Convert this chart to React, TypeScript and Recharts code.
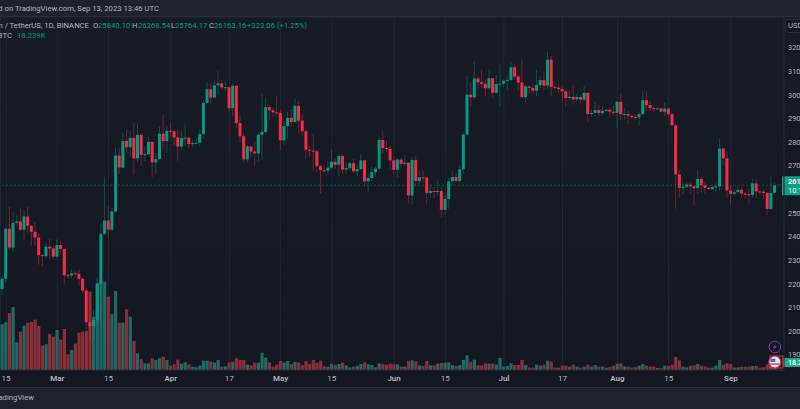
import React from 'react';
import {
  ComposedChart,
  Bar,
  Cell,
  XAxis,
  YAxis,
  CartesianGrid,
  ReferenceLine,
  ReferenceDot,
} from 'recharts';

const UP = '#089981';
const DOWN = '#f52d42';
const UP_VOL = '#1f6a64';
const DOWN_VOL = '#8a2f37';
const TEXT = '#b2b5be';
const GRID = '#222632';
const BORDER = '#2a2e39';
const PANEL = '#1e222d';
const FONT = 'Roboto, sans-serif';

const months: [string, number, number][] = [
  ['Feb', 14, 28], ['Mar', 1, 31], ['Apr', 1, 30], ['May', 1, 31],
  ['Jun', 1, 30], ['Jul', 1, 31], ['Aug', 1, 31], ['Sep', 1, 15],
];
const days = months.flatMap(([m, from, to]) => {
  const out: string[] = [];
  for (let d = from; d <= to; d++) out.push(`${m} ${d}`);
  return out;
});

const opens = [
  21770, 22200, 24320, 23520, 24570, 24630, 24280, 24840, 24450, 24190, 23950, 23200, 23160, 23560, 23490,
  23140, 23630, 23470, 22350, 22340, 22430, 22410, 22200, 21700, 20360, 20190, 20450, 21990, 24110, 24670, 24280, 25050, 27420, 26910, 28040, 27770, 28170, 27300, 28300, 27450, 27480, 28000, 27130, 27270, 28350, 28030,
  28470, 28450, 28190, 27800, 28170, 28180, 27910, 27950, 27960, 28330, 29650, 30230, 29880, 30390, 30480, 30310, 30320, 29430, 30380, 28800, 28240, 27260, 27810, 27590, 27510, 28300, 28420, 29470, 29340, 29250,
  29230, 28070, 28670, 29020, 28840, 29530, 28900, 28450, 27670, 27630, 27600, 26970, 26800, 26780, 26910, 27160, 27030, 27400, 26830, 26890, 27100, 26750, 26850, 27220, 26330, 26470, 26720, 26870, 28080, 27740, 27700,
  27220, 26820, 27250, 27070, 27120, 25730, 27230, 26340, 26500, 26480, 25840, 25920, 25900, 25920, 25120, 25580, 26330, 26510, 26340, 26840, 28310, 30000, 29890, 30690, 30530, 30460, 30270, 30700, 30080, 30450,
  30470, 30590, 30620, 31160, 30770, 30510, 29900, 30350, 30290, 30170, 30410, 30620, 30390, 31480, 30330, 30300, 30240, 30140, 29860, 29910, 29800, 29900, 29790, 30080, 29180, 29230, 29350, 29220, 29310, 29360, 29280,
  29230, 29700, 29170, 29180, 29110, 29050, 29040, 29180, 29770, 29560, 29430, 29400, 29420, 29280, 29410, 29170, 28700, 26620, 26050, 26100, 26190, 26120, 26040, 26430, 26160, 26050, 26000, 26090, 26110, 27720, 27300,
  25940, 25800, 25870, 25970, 25810, 25780, 25750, 26240, 25900, 25890, 25840, 25160, 25840.1,
];
const closes = [
  22200, 24320, 23520, 24570, 24630, 24280, 24840, 24450, 24190, 23950, 23200, 23160, 23560, 23490, 23140,
  23630, 23470, 22350, 22340, 22430, 22410, 22200, 21700, 20360, 20190, 20450, 21990, 24110, 24670, 24280, 25050, 27420, 26910, 28040, 27770, 28170, 27300, 28300, 27450, 27480, 28000, 27130, 27270, 28350, 28030, 28470,
  28450, 28190, 27800, 28170, 28180, 27910, 27950, 27960, 28330, 29650, 30230, 29880, 30390, 30480, 30310, 30320, 29430, 30380, 28800, 28240, 27260, 27810, 27590, 27510, 28300, 28420, 29470, 29340, 29250, 29230,
  28070, 28670, 29020, 28840, 29530, 28900, 28450, 27670, 27630, 27600, 26970, 26800, 26780, 26910, 27160, 27030, 27400, 26830, 26890, 27100, 26750, 26850, 27220, 26330, 26470, 26720, 26870, 28080, 27740, 27700, 27220,
  26820, 27250, 27070, 27120, 25730, 27230, 26340, 26500, 26480, 25840, 25920, 25900, 25920, 25120, 25580, 26330, 26510, 26340, 26840, 28310, 30000, 29890, 30690, 30530, 30460, 30270, 30700, 30080, 30450, 30470,
  30590, 30620, 31160, 30770, 30510, 29900, 30350, 30290, 30170, 30410, 30620, 30390, 31480, 30330, 30300, 30240, 30140, 29860, 29910, 29800, 29900, 29790, 30080, 29180, 29230, 29350, 29220, 29310, 29360, 29280, 29230,
  29700, 29170, 29180, 29110, 29050, 29040, 29180, 29770, 29560, 29430, 29400, 29420, 29280, 29410, 29170, 28700, 26620, 26050, 26100, 26190, 26120, 26040, 26430, 26160, 26050, 26000, 26090, 26110, 27720, 27300, 25940,
  25800, 25870, 25970, 25810, 25780, 25750, 26240, 25900, 25890, 25840, 25160, 25840, 26163.16,
];
const highs = [
  22320, 24380, 25250, 25020, 24880, 25190, 25120, 25250, 24470, 24600, 24130, 23230, 23690, 23900, 23620,
  23880, 23780, 23480, 22420, 22600, 22540, 22600, 22270, 21820, 20370, 20850, 22250, 24500, 26530, 25240, 25200, 27750, 27750, 28390, 28530, 28470, 28800, 28750, 28400, 27790, 28200, 28040, 27520, 28650, 29170, 28660,
  28800, 28520, 28490, 28440, 28770, 28190, 28100, 28180, 28530, 29770, 30550, 30500, 30620, 31000, 30620, 30550, 30320, 30490, 30410, 29100, 28370, 27880, 27820, 28000, 28400, 30020, 29880, 29570, 29450, 29960,
  29330, 28880, 29270, 29370, 29850, 29730, 29180, 28520, 27830, 28320, 27650, 27050, 27030, 27200, 27670, 27270, 27480, 27480, 27180, 27150, 27280, 27050, 27500, 27220, 26660, 26930, 26950, 28200, 28450, 28040, 27840,
  27350, 27300, 27340, 27460, 27140, 27350, 27400, 26800, 26780, 26530, 26200, 26100, 26400, 26080, 25750, 26480, 26780, 26690, 27030, 28400, 30800, 30520, 31430, 30800, 31050, 30660, 31000, 30700, 30830, 31280,
  30660, 30800, 31380, 31330, 30880, 31500, 30450, 30390, 30450, 31050, 30800, 30990, 31820, 31640, 30390, 30460, 30340, 30250, 30190, 30420, 30050, 29990, 30350, 30100, 29380, 29690, 29570, 29530, 29410, 29450, 29530,
  29740, 30050, 29430, 29310, 29110, 29170, 29250, 30170, 30130, 29700, 29530, 29470, 29450, 29660, 29480, 29230, 28780, 26830, 26270, 26300, 26260, 26140, 26810, 26560, 26310, 26110, 26170, 26250, 28140, 27760, 27580,
  26130, 25980, 26130, 26090, 25900, 26030, 26450, 26430, 25940, 25990, 25880, 26550, 26268.54,
];
const lows = [
  21530, 22050, 23440, 23340, 24430, 24230, 23850, 24150, 23590, 23600, 22800, 22720, 23070, 23050, 23030,
  23030, 23220, 21970, 22200, 22210, 22260, 21920, 21580, 20040, 19550, 19570, 20270, 21810, 24050, 23930, 24200, 25000, 26620, 26890, 27590, 27370, 26600, 27150, 27000, 27160, 27440, 26510, 26630, 27240, 27720, 27530,
  28230, 27870, 27200, 27670, 27830, 27710, 27780, 27880, 27800, 28170, 29620, 29620, 29850, 30000, 30220, 30120, 29260, 29080, 28600, 28000, 27130, 27120, 27330, 26970, 27180, 27240, 28380, 28900, 29070, 29090,
  27660, 27880, 28130, 28670, 28800, 28380, 28280, 27280, 27370, 26780, 26710, 25810, 26690, 26600, 26870, 26850, 26560, 26620, 26640, 26820, 26660, 26530, 26800, 26080, 25870, 26340, 26540, 26770, 27530, 27560, 26840,
  26600, 26510, 26920, 26950, 25390, 25350, 26110, 26200, 26260, 25350, 25600, 25620, 25730, 24800, 24920, 25170, 26180, 26280, 26260, 26650, 28260, 29520, 29810, 30250, 30280, 29920, 30220, 29880, 30040, 29500,
  30320, 30200, 30580, 30640, 30200, 29850, 29700, 30050, 30050, 29950, 30300, 30200, 30250, 29950, 30250, 30070, 29660, 29500, 29760, 29570, 29720, 29640, 29730, 28860, 29050, 29100, 29080, 29120, 29260, 29030, 29110,
  28590, 28920, 28950, 28750, 28960, 28980, 28700, 29110, 29350, 29310, 29250, 29360, 29260, 29100, 29050, 28690, 25170, 25620, 25800, 26070, 25810, 25300, 25790, 25860, 25780, 25970, 25970, 25880, 25920, 27020, 25660,
  25330, 25720, 25810, 25640, 25590, 25380, 25620, 25640, 25800, 25590, 24900, 25130, 25764.17,
];
// thousands of BTC
const volumes = [
  274, 286, 342, 378, 166, 230, 266, 284, 288, 302, 264, 146, 154, 216, 200,
  240, 182, 246, 94, 120, 158, 224, 230, 234, 470, 320, 520, 530, 530, 440, 334, 474, 284, 284, 364, 320, 174, 100, 66, 40, 40, 70, 60, 70, 80, 60,
  26, 34, 62, 38, 46, 34, 20, 16, 26, 56, 56, 50, 44, 60, 20, 22, 46, 50, 70, 60, 60, 32, 28, 44, 44, 104, 74, 46, 20, 32,
  54, 44, 54, 36, 48, 44, 28, 54, 36, 60, 44, 56, 22, 20, 38, 30, 36, 44, 28, 16, 20, 26, 36, 46, 34, 30, 16, 40, 36, 32, 38, 34, 34, 20, 20,
  54, 58, 52, 28, 24, 54, 28, 28, 38, 42, 44, 46, 30, 24, 30, 60, 88, 50, 62, 28, 28, 40, 38, 38, 32, 72, 20, 24, 40, 30,
  30, 60, 30, 14, 14, 32, 26, 32, 56, 50, 14, 14, 26, 26, 20, 32, 20, 14, 20, 32, 20, 30, 20, 20, 14, 18, 26, 38, 40, 22, 20,
  14, 16, 26, 36, 26, 20, 20, 12, 12, 26, 26, 32, 78, 58, 20, 16, 26, 28, 36, 26, 22, 14, 14, 26, 60, 32, 40,
  36, 14, 16, 18, 20, 20, 24, 26, 14, 16, 34, 38, 18.239,
];

const priceTicks = [19000, 20000, 21000, 22000, 23000, 24000, 25000, 26000, 27000, 28000, 29000, 30000, 31000, 32000];
const timeLabels: Record<string, string> = {
  'Feb 15': '15', 'Mar 1': 'Mar', 'Mar 15': '15', 'Apr 1': 'Apr', 'Apr 17': '17', 'May 1': 'May', 'May 15': '15',
  'Jun 1': 'Jun', 'Jun 15': '15', 'Jul 1': 'Jul', 'Jul 17': '17', 'Aug 1': 'Aug', 'Aug 15': '15', 'Sep 1': 'Sep',
};
const lastPrice = 26163.16;
const lastVolume = 18.239;
const eventDay = 'Sep 13';
const lightningLevel = 19310;
const flagLevel = 18675;

const rows = days.map((day, i) => ({
  day,
  open: opens[i],
  close: closes[i],
  high: highs[i],
  low: lows[i],
  volume: volumes[i],
  range: opens[i] === undefined ? undefined : [lows[i], highs[i]],
}));

function Candle(props: any) {
  const { x, y, width, height, payload } = props;
  if (!payload || payload.open === undefined || !Number.isFinite(y)) return null;
  const { open, close, high, low } = payload;
  const k = height / (high - low);
  const top = y + (high - Math.max(open, close)) * k;
  const bodyHeight = Math.max(Math.abs(open - close) * k, 1);
  const color = close >= open ? UP : DOWN;
  const mid = x + width / 2;
  return (
    <g>
      <line x1={mid} x2={mid} y1={y} y2={y + height} stroke={color} strokeWidth={1} strokeOpacity={0.42} />
      <rect x={x} y={top} width={width} height={bodyHeight} fill={color} />
    </g>
  );
}

function TimeTick({ x, y, payload }: any) {
  const label = timeLabels[payload.value] ?? '';
  const isMonth = label.length > 2;
  return (
    <text x={x} y={y + 3} textAnchor="middle" fontSize={8} fontWeight={isMonth ? 600 : 400} fill={TEXT} fontFamily={FONT}>
      {label}
    </text>
  );
}

// the 26000 label sits under the last-price tag
function PriceTick({ x, y, payload }: any) {
  if (payload.value === 26000) return null;
  return (
    <text x={x - 6} y={y + 3} fontSize={7.4} fill={TEXT} fontFamily={FONT}>
      {payload.value}
    </text>
  );
}

function PriceTag({ viewBox }: any) {
  const right = viewBox.x + viewBox.width;
  return (
    <g fontFamily={FONT}>
      <rect x={right - 2} y={viewBox.y - 9} width={20} height={19} fill="#149c84" />
      <text x={right + 4} y={viewBox.y - 1} fontSize={7.4} fontWeight={600} fill="#fff">26163.16</text>
      <text x={right + 4} y={viewBox.y + 8} fontSize={7.4} fill="#e6f4f1">10:13:52</text>
    </g>
  );
}

function VolumeTag({ viewBox }: any) {
  const right = viewBox.x + viewBox.width;
  return (
    <g fontFamily={FONT}>
      <rect x={right - 1} y={viewBox.y - 9} width={19} height={9} fill="#22ab94" />
      <text x={right + 4} y={viewBox.y - 2} fontSize={7} fontWeight={600} fill="#fff">18.239K</text>
    </g>
  );
}

function LightningMark({ cx, cy }: any) {
  return (
    <g>
      <circle cx={cx} cy={cy} r={5.8} fill="#131722" stroke="#8e35a8" strokeWidth={1} />
      <path d={`M${cx + 1.5} ${cy - 3.5} L${cx - 2} ${cy + 0.5} L${cx} ${cy + 0.5} L${cx - 1.5} ${cy + 3.5} L${cx + 2} ${cy - 0.8} L${cx} ${cy - 0.8} Z`} fill="#8e35a8" />
    </g>
  );
}

function FlagMark({ cx, cy }: any) {
  return (
    <g>
      <rect x={cx - 5} y={cy - 6} width={13} height={12} fill="none" stroke="#d32f3f" strokeWidth={1} />
      <circle cx={cx} cy={cy} r={6} fill="#e8e8ee" stroke="#d32f3f" strokeWidth={1.2} />
      <path d={`M${cx - 4.5} ${cy - 3.2} h5 v3.2 h-5 Z`} fill="#3d6fd6" />
      <rect x={cx - 4.8} y={cy + 1.4} width={9.6} height={1.4} fill="#e0404c" />
    </g>
  );
}

const textBase: React.CSSProperties = { position: 'absolute', fontFamily: FONT, fontSize: 7.7, whiteSpace: 'nowrap', lineHeight: '10px' };

function Txt({ left, right, top, color = TEXT, children }: any) {
  return <span style={{ ...textBase, left, right: right === undefined ? undefined : 800 - right, top, color }}>{children}</span>;
}

export default function App() {
  return (
    <div style={{ position: 'fixed', left: 0, top: 0, width: 800, height: 409, overflow: 'hidden', background: 'linear-gradient(#181c27, #131722)' }}>
      <ComposedChart width={800} height={387} data={rows} margin={{ top: 17, right: 0, bottom: 0, left: 0.55 }}>
        <CartesianGrid stroke={GRID} strokeWidth={1} />
        <XAxis
          dataKey="day"
          height={17}
          ticks={Object.keys(timeLabels)}
          interval={0}
          tick={<TimeTick />}
          tickLine={false}
          axisLine={{ stroke: BORDER }}
        />
        <XAxis dataKey="day" xAxisId="vol" hide />
        <YAxis
          yAxisId="price"
          orientation="right"
          width={16}
          domain={[18335, 33292]}
          ticks={priceTicks}
          interval={0}
          allowDataOverflow
          tickLine={false}
          axisLine={{ stroke: '#20242f' }}
          tickMargin={4}
          tick={<PriceTick />}
        />
        <YAxis yAxisId="volume" hide domain={[0, 2118]} allowDataOverflow />
        <Bar yAxisId="volume" xAxisId="vol" dataKey="volume" barSize={3.2} isAnimationActive={false}>
          {rows.map((r) => (
            <Cell key={r.day} fill={r.open === undefined ? 'transparent' : r.close >= r.open ? UP_VOL : DOWN_VOL} />
          ))}
        </Bar>
        <ReferenceLine
          yAxisId="price"
          y={lastPrice}
          stroke={UP}
          strokeOpacity={0.45}
          strokeDasharray="2 2"
          label={(p: any) => <PriceTag {...p} />}
        />
        <ReferenceLine
          yAxisId="volume"
          xAxisId="vol"
          y={lastVolume}
          stroke="none"
          label={(p: any) => <VolumeTag {...p} />}
        />
        <Bar yAxisId="price" dataKey="range" barSize={3} shape={<Candle />} isAnimationActive={false} />
        <ReferenceDot yAxisId="price" x={eventDay} y={lightningLevel} ifOverflow="visible" shape={<LightningMark />} />
        <ReferenceDot yAxisId="price" x={eventDay} y={flagLevel} ifOverflow="visible" shape={<FlagMark />} />
      </ComposedChart>

      <div style={{ position: 'absolute', left: 0, top: 0, width: 800, height: 16, background: PANEL, borderBottom: `1px solid ${BORDER}` }} />
      <Txt right={159} top={4}>Published on TradingView.com, Sep 13, 2023 13:46 UTC</Txt>

      <Txt right={89} top={21}>Bitcoin / TetherUS, 1D, BINANCE</Txt>
      <Txt left={93} top={21}>O</Txt>
      <Txt left={98} top={21} color={UP}>25840.10</Txt>
      <Txt left={132} top={21}>H</Txt>
      <Txt left={138} top={21} color={UP}>26268.54</Txt>
      <Txt left={171} top={21}>L</Txt>
      <Txt left={175} top={21} color={UP}>25764.17</Txt>
      <Txt left={209} top={21}>C</Txt>
      <Txt left={214} top={21} color={UP}>26163.16</Txt>
      <Txt left={247} top={21} color={UP}>+323.06 (+1.25%)</Txt>
      <Txt right={12} top={31}>Volume BTC</Txt>
      <Txt left={17} top={31} color={UP}>18.239K</Txt>

      <div style={{ position: 'absolute', left: 785, top: 19, width: 30, height: 14, boxSizing: 'border-box', border: `1px solid ${BORDER}`, borderRadius: 3, background: '#131722' }} />
      <Txt left={788} top={21}>USDT</Txt>

      <div style={{ position: 'absolute', left: 0, top: 387, width: 800, height: 22, background: PANEL, borderTop: `1px solid ${BORDER}` }} />
      <Txt right={34} top={393}>TradingView</Txt>
    </div>
  );
}
